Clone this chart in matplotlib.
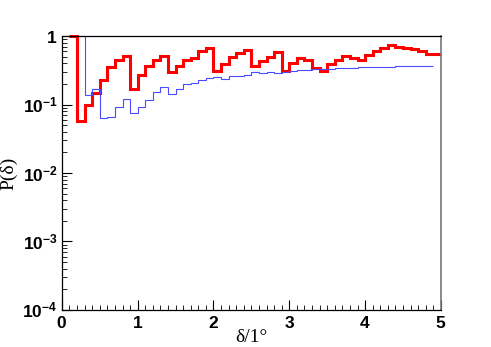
import numpy as np
import matplotlib.pyplot as plt
from matplotlib.ticker import FixedLocator, LogLocator, NullFormatter, FuncFormatter

plt.rcParams['mathtext.fontset'] = 'custom'
plt.rcParams['mathtext.rm'] = 'Liberation Sans:bold'
plt.rcParams['mathtext.bf'] = 'Liberation Sans:bold'
plt.rcParams['mathtext.default'] = 'bf'

# histogram contents, bin width 0.1 deg, first bin starts at 0.1
bin_width = 0.1
red_start = 0.1
red_vals = [1.0, 0.057, 0.099, 0.147, 0.23, 0.35, 0.45, 0.52, 0.17, 0.27,
            0.36, 0.45, 0.52, 0.30, 0.36, 0.44, 0.48, 0.60, 0.68, 0.31,
            0.39, 0.49, 0.56, 0.63, 0.37, 0.43, 0.49, 0.58, 0.31, 0.41,
            0.48, 0.44, 0.34, 0.31, 0.39, 0.44, 0.52, 0.48, 0.44, 0.53,
            0.61, 0.67, 0.75, 0.69, 0.68, 0.65, 0.61, 0.55, 0.55]
blue_start = 0.1
blue_vals = [1.0, 1.0, 0.136, 0.168, 0.064, 0.066, 0.091, 0.12, 0.075, 0.092,
             0.118, 0.15, 0.178, 0.142, 0.168, 0.20, 0.206, 0.23, 0.244, 0.25,
             0.235, 0.263, 0.26, 0.27, 0.295, 0.29, 0.30, 0.29, 0.30, 0.305,
             0.315, 0.32, 0.333, 0.333, 0.335, 0.337, 0.34, 0.345, 0.35, 0.35,
             0.35, 0.355, 0.355, 0.36, 0.36, 0.365, 0.37, 0.37]

red_edges = red_start + bin_width * np.arange(len(red_vals) + 1)
blue_edges = blue_start + bin_width * np.arange(len(blue_vals) + 1)

fig = plt.figure(figsize=(4.91, 3.47), dpi=100)
ax = fig.add_axes([0.126, 0.107, 0.772, 0.789])

ax.stairs(red_vals, red_edges, color='#ff0000', lw=2.2, baseline=None, clip_on=False)
ax.stairs(blue_vals, blue_edges, color='#4a4aff', lw=0.8, baseline=None, clip_on=False)

ax.set_yscale('log')
ax.set_xlim(0, 5)
ax.set_ylim(1e-4, 1)

ax.xaxis.set_major_locator(FixedLocator([0, 1, 2, 3, 4, 5]))
ax.xaxis.set_minor_locator(FixedLocator(np.arange(0, 5.01, 0.1)))
ax.yaxis.set_major_locator(LogLocator(base=10))
ax.yaxis.set_minor_locator(LogLocator(base=10, subs=np.arange(2, 10)))
ax.yaxis.set_minor_formatter(NullFormatter())


def yfmt(v, pos):
    e = int(round(np.log10(v)))
    if e == 0:
        return '$1$'
    return '$10^{%d}$' % e


def xfmt(v, pos):
    return '$%d$' % v


ax.yaxis.set_major_formatter(FuncFormatter(yfmt))
ax.xaxis.set_major_formatter(FuncFormatter(xfmt))

ax.tick_params(which='major', direction='in', length=7, width=0.8, labelsize=12.5, pad=3)
ax.tick_params(which='minor', direction='in', length=3.5, width=0.6)
ax.tick_params(top=False, right=False, which='both')

for s in ['left', 'bottom', 'top']:
    ax.spines[s].set_linewidth(0.9)
ax.spines['right'].set_color('#777777')
ax.spines['right'].set_linewidth(1.2)

ax.set_xlabel('δ/1°', family='Liberation Serif', fontsize=14, labelpad=-2)
ax.set_ylabel('P(δ)', family='Liberation Serif', fontsize=14, labelpad=4)

fig.savefig('out.png', dpi=100)
